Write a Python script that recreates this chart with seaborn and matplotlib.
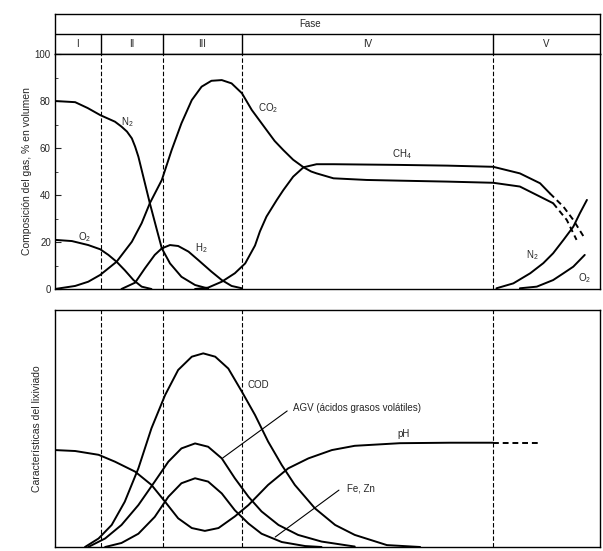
import matplotlib
matplotlib.use("Agg")
import matplotlib.pyplot as plt
from matplotlib.ticker import MultipleLocator
import seaborn as sns
import pandas as pd

# ---------------- data ----------------
phase_bounds = [8.4, 19.8, 34.3, 80.4]
phase_labels = ["I", "II", "III", "IV", "V"]

# top panel: gas composition (% by volume)
n2_t = [0, 3.7, 6.0, 8.3, 11.0, 12.2, 13.2, 14.1, 14.7, 15.3, 16.5, 17.4,
        18.7, 19.6, 21.1, 23.2, 25.7, 28.1]
n2_v = [80, 79.5, 77.0, 74.0, 71.2, 69.1, 67.0, 64.1, 60.6, 56.3, 45.0, 36.5,
        25.1, 17.3, 10.9, 5.2, 1.7, 0.2]

o2_t = [0, 3.1, 6.1, 8.3, 9.8, 11.3, 12.8, 14.4, 15.9, 17.7]
o2_v = [20.9, 20.4, 18.7, 16.9, 14.5, 11.6, 8.0, 3.8, 1.0, 0]

co2_t = [0, 3.7, 6.1, 8.3, 11.3, 14.1, 15.9, 17.4, 19.6, 21.4, 23.2, 25.1,
         26.9, 28.7, 30.6, 32.4, 34.3, 36.1, 38.8, 40.3, 41.9, 43.7, 45.6,
         47.0, 48.0, 51.1, 57.2, 63.3, 72.0, 80.4, 85.3, 89.0, 91.4]
co2_v = [0, 1.3, 3.1, 6.0, 11.6, 20.1, 28.0, 36.5, 46.4, 59.1, 70.5, 80.4,
         86.1, 88.6, 88.9, 87.5, 83.3, 76.2, 67.7, 63.0, 59.1, 55.0, 51.8,
         50.0, 49.2, 47.1, 46.4, 46.1, 45.7, 45.2, 43.6, 39.3, 36.5]
co2_dash_t = [91.4, 93.9, 95.7]
co2_dash_v = [36.5, 29.4, 20.9]

ch4_t = [25.7, 28.1, 30.6, 33.0, 34.9, 36.7, 37.6, 38.8, 40.7, 41.9, 43.7,
         45.6, 48.0, 51.1, 63.3, 72.0, 80.4, 85.3, 89.0, 90.8]
ch4_v = [0, 0.6, 3.1, 6.7, 10.9, 18.5, 24.5, 30.8, 37.9, 42.1, 47.8,
         51.8, 53.1, 53.1, 52.8, 52.5, 52.0, 49.2, 45.0, 40.7]
ch4_dash_t = [90.8, 93.3, 95.1, 97.0]
ch4_dash_v = [40.7, 35.0, 29.4, 22.3]

h2_t = [12.2, 14.7, 16.5, 18.3, 19.6, 21.1, 22.6, 24.5, 26.3, 28.7, 30.6,
        32.4, 34.3]
h2_v = [0, 2.7, 8.8, 14.5, 17.3, 18.7, 18.3, 15.9, 12.3, 7.4, 3.8,
        1.3, 0.3]

n2b_t = [81.0, 84.1, 87.2, 89.6, 91.4, 93.3, 95.1, 96.3, 97.6]
n2b_v = [0.3, 2.4, 6.7, 11.0, 15.2, 20.9, 26.5, 32.2, 37.9]

o2b_t = [85.3, 88.4, 91.4, 93.3, 95.1, 97.2]
o2b_v = [0.3, 1.0, 3.8, 6.7, 9.5, 14.5]

# bottom panel: leachate characteristics (relative units)
ph_t = [0, 3.7, 8.0, 11.0, 14.7, 17.7, 20.2, 22.6, 25.1, 27.5, 30.0, 33.0,
        35.5, 39.1, 42.8, 46.5, 50.8, 55.0, 63.3, 72.5, 80.4]
ph_v = [40.9, 40.5, 38.9, 36.0, 31.8, 26.2, 19.1, 12.1, 8.0, 6.8, 8.0, 12.9,
        17.7, 26.2, 33.2, 37.4, 40.9, 42.7, 43.8, 44.0, 44.0]
ph_dash_t = [80.4, 89.0]
ph_dash_v = [44.0, 44.0]

cod_t = [5.5, 8.0, 10.4, 12.8, 15.3, 17.7, 20.2, 22.6, 25.1, 27.2, 29.4,
         31.8, 34.3, 36.7, 39.1, 41.6, 44.0, 47.7, 51.4, 55.0, 60.9, 67.0]
cod_v = [0, 3.6, 9.3, 19.1, 33.2, 50.1, 64.1, 74.7, 80.3, 81.7, 80.3,
         75.3, 65.5, 55.7, 44.5, 34.6, 26.2, 16.3, 9.3, 5.1, 0.8, 0]

agv_t = [6.1, 9.2, 12.2, 15.3, 18.3, 20.8, 23.2, 25.7, 28.1, 30.6, 33.0,
         35.5, 37.9, 41.0, 44.6, 48.9, 53.8, 55.0]
agv_v = [0, 3.6, 9.3, 17.7, 27.6, 36.0, 41.6, 43.7, 42.3, 37.4, 29.0,
         21.2, 15.0, 9.3, 5.1, 2.3, 0.6, 0.2]

fe_t = [9.2, 12.2, 15.3, 18.3, 20.8, 23.2, 25.7, 28.1, 30.6, 33.0, 35.5,
        37.9, 41.6, 45.9, 48.9]
fe_v = [0, 1.7, 5.6, 12.7, 21.2, 26.9, 29.0, 27.6, 22.6, 15.5, 9.9,
        5.6, 2.1, 0.4, 0]

top_ylabel = "Composición del gas, % en volumen"
bot_ylabel = "Características del lixiviado"

# ---------------- style ----------------
sns.set_style("white")
plt.rcParams["font.family"] = ["Liberation Sans", "DejaVu Sans"]
plt.rcParams["mathtext.fontset"] = "custom"
plt.rcParams["mathtext.rm"] = "Liberation Sans"
plt.rcParams["mathtext.it"] = "Liberation Sans"

fig = plt.figure(figsize=(6.03, 5.51), dpi=100)
W, H = 603, 551
def pos(l, t, r, b):
    return [l / W, 1 - b / H, (r - l) / W, (b - t) / H]

ax_head = fig.add_axes(pos(55, 14, 600, 54))
ax_top = fig.add_axes(pos(55, 54, 600, 289))
ax_bot = fig.add_axes(pos(55, 310, 600, 547))

LW = 1.4
def curve(ax, t, v, dashed=False):
    df = pd.DataFrame({"t": t, "v": v})
    sns.lineplot(data=df, x="t", y="v", ax=ax, color="black", lw=LW,
                 sort=False, estimator=None,
                 linestyle=(0, (3, 2)) if dashed else "-")

for t, v in [(n2_t, n2_v), (o2_t, o2_v), (co2_t, co2_v), (ch4_t, ch4_v),
             (h2_t, h2_v), (n2b_t, n2b_v), (o2b_t, o2b_v)]:
    curve(ax_top, t, v)
curve(ax_top, co2_dash_t, co2_dash_v, dashed=True)
curve(ax_top, ch4_dash_t, ch4_dash_v, dashed=True)

for t, v in [(ph_t, ph_v), (cod_t, cod_v), (agv_t, agv_v), (fe_t, fe_v)]:
    curve(ax_bot, t, v)
curve(ax_bot, ph_dash_t, ph_dash_v, dashed=True)

for ax in (ax_top, ax_bot, ax_head):
    ax.set_xlim(0, 100)
    for s in ax.spines.values():
        s.set_color("black")
        s.set_linewidth(1.0)
        s.set_visible(True)
    ax.set_xlabel("")
    ax.set_ylabel("")

for ax in (ax_top, ax_bot):
    ax.set_ylim(0, 100)
    for b in phase_bounds:
        ax.axvline(b, color="black", lw=0.8, ls=(0, (4, 2)))
    ax.set_xticks([])

# top axis ticks
ax_top.yaxis.set_major_locator(MultipleLocator(20))
ax_top.yaxis.set_minor_locator(MultipleLocator(10))
ax_top.tick_params(axis="y", which="major", direction="in", length=4,
                   width=0.8, labelsize=7, left=True, pad=3)
ax_top.tick_params(axis="y", which="minor", direction="in", length=2,
                   width=0.6, left=True)
ax_top.set_ylabel(top_ylabel, fontsize=7.5, labelpad=2)

ax_bot.set_yticks([])
ax_bot.set_ylabel(bot_ylabel, fontsize=7.5, labelpad=9)

# header
ax_head.set_ylim(0, 2)
ax_head.set_xticks([])
ax_head.set_yticks([])
ax_head.axhline(1, color="black", lw=1.0)
for b in phase_bounds:
    ax_head.plot([b, b], [0, 1], color="black", lw=1.0)
ax_head.text(46.8, 1.5, "Fase", ha="center", va="center", fontsize=7)
edges = [0] + phase_bounds + [100]
for i, lab in enumerate(phase_labels):
    ax_head.text((edges[i] + edges[i + 1]) / 2, 0.5, lab, ha="center",
                 va="center", fontsize=7)

# curve labels (top)
fs = 7
ax_top.text(12.1, 71, r"N$_2$", fontsize=fs, va="center")
ax_top.text(37.2, 77, r"CO$_2$", fontsize=fs, va="center")
ax_top.text(25.7, 17.4, r"H$_2$", fontsize=fs, va="center")
ax_top.text(4.2, 22, r"O$_2$", fontsize=fs, va="center")
ax_top.text(61.8, 57.4, r"CH$_4$", fontsize=fs, va="center")
ax_top.text(86.4, 14.5, r"N$_2$", fontsize=fs, va="center")
ax_top.text(96.0, 4.7, r"O$_2$", fontsize=fs, va="center")

# curve labels (bottom)
ax_bot.text(35.4, 68.4, "COD", fontsize=fs, va="center")
ax_bot.text(43.7, 58.6, "AGV (ácidos grasos volátiles)", fontsize=fs, va="center")
ax_bot.plot([30.8, 42.6], [37.6, 57.4], color="black", lw=0.8)
ax_bot.text(62.8, 47.5, "pH", fontsize=fs, va="center")
ax_bot.text(53.6, 24.5, "Fe, Zn", fontsize=fs, va="center")
ax_bot.plot([40.4, 52.1], [4.2, 24.0], color="black", lw=0.8)

fig.savefig("out.png", dpi=100)
